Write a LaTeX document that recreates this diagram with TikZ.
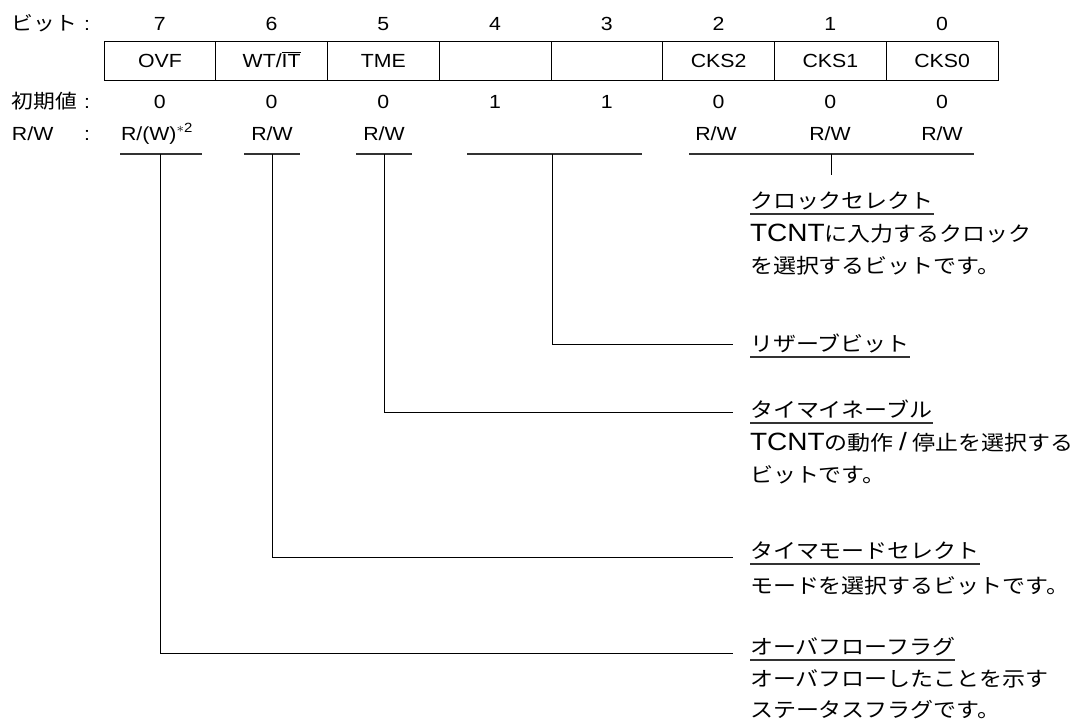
\documentclass[tikz,border=0pt]{standalone}
\usepackage{fontspec}
\setmainfont{Liberation Sans}
\newfontfamily\jpf{Noto Sans CJK JP}
\newcommand\regsz{\fontsize{14.25pt}{17pt}\selectfont}
\newcommand\jl{\jpf\fontsize{14.6pt}{17pt}\selectfont}
\newcommand\dl{\fontsize{18.75pt}{24pt}\selectfont}
\newcommand\jd{\jpf\fontsize{15.4pt}{24pt}\selectfont}
\newcommand\supnote{\raisebox{0.42em}{\fontsize{10pt}{10pt}\selectfont\(\ast\)2}}
\begin{document}
\begin{tikzpicture}[x=0.75pt,y=-0.75pt,
  txt/.style={xscale=1.12, inner sep=0pt, outer sep=0pt},
  reg/.style={txt, font=\regsz, text height=10.2pt, text depth=0pt, anchor=center},
  regb/.style={txt, font=\regsz, anchor=base},
  lbl/.style={txt, anchor=base west},
  desc/.style={txt, anchor=base west},
  cellbox/.style={draw, line width=0.75pt, minimum width=83.81pt, minimum height=29.25pt, inner sep=0pt},
  uline/.style={line width=0.8pt, black!80},
  lead/.style={line width=0.75pt, black}]
\useasboundingbox (0,0) rectangle (1072,725);

% row labels
\node[lbl] (lbit) at (12,30.5) {\jl ビット};
\node[regb] (cbit) at (87,30.5) {:};
\node[lbl] (linit) at (12,108.7) {\jl 初期値};
\node[regb] (cinit) at (87,108.7) {:};
\node[lbl,font=\regsz] (lrw) at (12,140) {R/W};
\node[regb] (crw) at (87,140) {:};

% bit numbers, cells, initial values
\foreach \i/\lab/\ini in {7/OVF/0,6/{WT/\(\overline{\mbox{IT}}\)}/0,5/TME/0,4//1,3//1,2/CKS2/0,1/CKS1/0,0/CKS0/0}{
  \pgfmathsetmacro\cx{104+111.75*(7-\i)+55.875}
  \node[reg] (n\i) at (\cx,23.5) {\i};
  \node[cellbox] (b\i) at (\cx,60.5) {};
  \node[reg] (t\i) at (b\i) {\lab};
  \node[reg] (v\i) at (\cx,102) {\ini};
}

% R/W row
\node[regb, anchor=base west] (rw7) at (121,140) {R/(W)\supnote};
\node[regb] (rw6) at (272,140) {R/W};
\node[regb] (rw5) at (384,140) {R/W};
\node[regb] (rw2) at (716,140) {R/W};
\node[regb] (rw1) at (830,140) {R/W};
\node[regb] (rw0) at (942,140) {R/W};

\coordinate (ua7) at (120,154); \coordinate (ub7) at (202,154);
\coordinate (ua6) at (244,154); \coordinate (ub6) at (300,154);
\coordinate (ua5) at (356,154); \coordinate (ub5) at (412,154);
\coordinate (ua43) at (467,154); \coordinate (ub43) at (642,154);
\coordinate (ua210) at (689,154); \coordinate (ub210) at (974,154);
\foreach \k in {7,6,5,43,210} \draw[uline] (ua\k) -- (ub\k);

% lead points
\coordinate (s7) at (160,154);
\coordinate (s6) at (272,154);
\coordinate (s5) at (384,154);
\coordinate (s43) at (552,154);
\coordinate (s210) at (831,154);
\coordinate (e7) at (733,653);
\coordinate (e6) at (733,557);
\coordinate (e5) at (733,412);
\coordinate (e43) at (733,344);
\coordinate (e210) at (831,175);

\draw[lead] (s7) |- (e7);
\draw[lead] (s6) |- (e6);
\draw[lead] (s5) |- (e5);
\draw[lead] (s43) |- (e43);
\draw[lead] (s210) -- (e210);

% descriptions
\node[desc] (cT) at (750,208) {\jd クロックセレクト};
\node[desc] (c2) at (750,241) {\dl TCNT\jd に入力するクロック};
\node[desc] (c3) at (750,273) {\jd を選択するビットです。};

\node[desc] (rT) at (750,351) {\jd リザーブビット};

\node[desc] (eT) at (750,417) {\jd タイマイネーブル};
\node[desc] (e2) at (750,450) {\dl TCNT{\jd の動作}\hspace{0.2em}/\hspace{0.2em}{\jd 停止を選択する}};
\node[desc] (e3) at (750,482) {\jd ビットです。};

\node[desc] (mT) at (750,558) {\jd タイマモードセレクト};
\node[desc] (m2) at (750,593) {\jd モードを選択するビットです。};

\node[desc] (oT) at (750,654) {\jd オーバフローフラグ};
\node[desc] (o2) at (750,686) {\jd オーバフローしたことを示す};
\node[desc] (o3) at (750,717) {\jd ステータスフラグです。};

\foreach \t in {cT,rT,eT,mT,oT}
  \draw[uline] ([yshift=-4.5pt]\t.base west) -- ([yshift=-4.5pt]\t.base east);
\end{tikzpicture}
\end{document}
